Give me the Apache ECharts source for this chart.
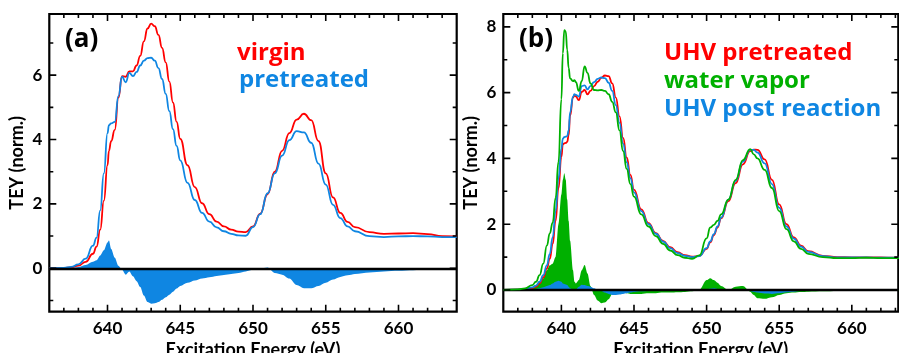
<!DOCTYPE html>
<html>
<head>
<meta charset="utf-8">
<script src="https://cdn.jsdelivr.net/npm/echarts/dist/echarts.min.js"></script>
<style>
  html, body { margin: 0; padding: 0; background: #fff; }
  #chart { width: 899px; height: 353px; }
</style>
</head>
<body>
<div id="chart"></div>
<script>
// ---- Panel (a): L-edge TEY, virgin vs pretreated ----
const energyA = [636, 637, 637.5, 638, 638.5, 639, 639.25, 639.5, 639.75, 640, 640.1, 640.25, 640.5, 640.75,
  641, 641.25, 641.5, 641.75, 642, 642.25, 642.5, 642.75, 643, 643.25, 643.5, 643.75, 644, 644.25, 644.5,
  644.75, 645, 645.5, 646, 646.5, 647, 647.5, 648, 648.5, 649, 649.5, 650, 650.5, 651, 651.5, 652, 652.5,
  653, 653.5, 654, 654.5, 655, 655.5, 656, 656.5, 657, 658, 659, 660, 661, 662, 663, 664];
const virginA = [0, 0.01, 0.03, 0.08, 0.2, 0.45, 0.67, 1.2, 2.1, 3.2, 3.65, 3.95, 4.3, 5.3,
  5.97, 5.95, 6.12, 6.12, 6.3, 6.6, 7.05, 7.45, 7.6, 7.52, 7.25, 6.85, 6.4, 5.8, 5.15,
  4.55, 4.02, 3.2, 2.52, 2.02, 1.68, 1.45, 1.3, 1.2, 1.14, 1.12, 1.3, 1.7, 2.3, 3.0, 3.65, 4.2,
  4.62, 4.8, 4.6, 3.95, 2.95, 2.2, 1.72, 1.44, 1.28, 1.12, 1.07, 1.08, 1.09, 1.06, 1.0, 0.99];
const pretreatedA = [0, 0.01, 0.04, 0.12, 0.3, 0.7, 0.95, 1.8, 2.95, 4.2, 4.45, 4.5, 4.55, 5.35,
  5.95, 5.78, 6.07, 5.97, 6.1, 6.3, 6.45, 6.53, 6.54, 6.45, 6.22, 5.88, 5.42, 4.88, 4.32,
  3.8, 3.35, 2.65, 2.12, 1.72, 1.45, 1.27, 1.15, 1.07, 1.02, 1.01, 1.28, 1.68, 2.33, 2.95, 3.5, 3.98,
  4.26, 4.22, 3.9, 3.25, 2.6, 1.97, 1.56, 1.3, 1.15, 1.0, 0.97, 0.99, 1.0, 0.99, 0.97, 0.97];
const diffA = [0, 0, 0.01, 0.04, 0.1, 0.2, 0.25, 0.4, 0.56, 0.8, 0.86, 0.6, 0.33, 0.08,
  -0.05, -0.2, -0.1, -0.25, -0.4, -0.58, -0.85, -1.05, -1.1, -1.09, -1.05, -0.98, -0.9, -0.82, -0.73,
  -0.63, -0.55, -0.45, -0.38, -0.32, -0.28, -0.24, -0.21, -0.18, -0.15, -0.1, -0.05, -0.01, 0.02, -0.15, -0.2, -0.32,
  -0.52, -0.62, -0.62, -0.55, -0.45, -0.35, -0.27, -0.22, -0.18, -0.13, -0.1, -0.08, -0.06, -0.04, -0.03, -0.02];

// ---- Panel (b): UHV pretreated, water vapor, UHV post reaction ----
const energyB = [636, 637, 637.5, 638, 638.25, 638.5, 638.75, 639, 639.2, 639.4, 639.6, 639.8, 640, 640.1,
  640.2, 640.3, 640.4, 640.5, 640.6, 640.8, 640.9, 641, 641.2, 641.4, 641.6, 641.8, 642, 642.25, 642.5,
  642.75, 643, 643.25, 643.5, 643.75, 644, 644.25, 644.5, 644.75, 645, 645.5, 646, 646.5, 647, 647.5,
  648, 648.5, 649, 649.5, 650, 650.25, 650.5, 650.75, 651, 651.5, 652, 652.5, 653, 653.25, 653.5, 654,
  654.5, 655, 655.5, 656, 656.5, 657, 658, 659, 660, 661, 662, 663, 664];
const uhvPretreatedB = [0, 0.01, 0.02, 0.06, 0.1, 0.2, 0.38, 0.65, 0.95, 1.4, 2.1, 3.1, 4.05, 4.42,
  4.46, 4.47, 4.5, 4.7, 5.3, 5.85, 5.92, 5.88, 5.77, 6.02, 6.08, 5.95, 6.05, 6.2, 6.33,
  6.45, 6.52, 6.5, 6.28, 5.85, 5.28, 4.62, 4.02, 3.5, 3.05, 2.45, 2.03, 1.73, 1.49, 1.3,
  1.15, 1.06, 1.01, 1.04, 1.25, 1.45, 1.67, 1.9, 2.18, 2.7, 3.25, 3.82, 4.22, 4.27, 4.26, 3.97,
  3.35, 2.6, 2.0, 1.6, 1.35, 1.18, 1.04, 1.0, 0.99, 0.99, 0.99, 0.98, 0.98];
const waterVaporB = [0, 0.02, 0.05, 0.15, 0.25, 0.45, 0.8, 1.35, 1.72, 2.05, 2.8, 3.9, 5.8, 7.2,
  7.9, 7.85, 7.3, 6.75, 6.43, 6.35, 6.38, 6.32, 6.05, 6.35, 6.8, 6.6, 6.28, 6.08, 6.07,
  6.08, 6.05, 5.95, 5.72, 5.4, 4.85, 4.22, 3.68, 3.22, 2.84, 2.3, 1.93, 1.64, 1.4, 1.2,
  1.06, 0.98, 0.95, 1.05, 1.57, 1.9, 1.98, 2.1, 2.3, 2.75, 3.35, 3.95, 4.28, 4.12, 4.0, 3.65,
  3.1, 2.4, 1.85, 1.48, 1.25, 1.1, 1.0, 0.97, 0.97, 0.98, 0.97, 0.97, 0.97];
const postReactionB = [0, 0.01, 0.03, 0.08, 0.13, 0.25, 0.45, 0.75, 1.1, 1.6, 2.4, 3.4, 4.3, 4.6,
  4.65, 4.66, 4.68, 4.85, 5.4, 5.88, 5.95, 5.93, 5.88, 6.2, 6.22, 6.1, 6.2, 6.32, 6.42,
  6.46, 6.44, 6.3, 6.05, 5.62, 5.08, 4.45, 3.88, 3.4, 2.97, 2.4, 2.0, 1.71, 1.47, 1.27,
  1.12, 1.04, 1.0, 1.03, 1.27, 1.48, 1.7, 1.93, 2.2, 2.75, 3.32, 3.9, 4.26, 4.26, 4.18, 3.85,
  3.22, 2.5, 1.93, 1.56, 1.32, 1.16, 1.03, 0.99, 0.99, 0.99, 0.98, 0.98, 0.98];
const diffWaterB = [0, 0.01, 0.03, 0.09, 0.15, 0.25, 0.35, 0.6, 0.75, 0.8, 1.0, 2.0, 2.9, 3.35,
  3.55, 3.35, 2.75, 2.1, 1.5, 0.6, 0.25, 0.2, 0.3, 0.6, 0.76, 0.5, 0.12, -0.15, -0.32,
  -0.4, -0.38, -0.28, -0.12, -0.05, 0.02, -0.05, -0.1, -0.12, -0.12, -0.12, -0.1, -0.1, -0.08, -0.08,
  -0.07, -0.06, -0.04, 0, 0.3, 0.36, 0.3, 0.22, 0.12, 0, 0.1, 0.12, -0.05, -0.15, -0.25, -0.27,
  -0.22, -0.15, -0.1, -0.08, -0.06, -0.05, -0.04, -0.03, -0.02, -0.02, -0.01, -0.01, -0.01];
const diffPostB = [0, 0, 0.01, 0.02, 0.03, 0.05, 0.08, 0.12, 0.15, 0.2, 0.25, 0.28, 0.25, 0.2,
  0.18, 0.17, 0.15, 0.1, 0.05, 0, -0.02, 0.02, 0.1, 0.16, 0.15, 0.12, 0.1, 0.05, 0,
  -0.03, -0.08, -0.12, -0.15, -0.15, -0.14, -0.12, -0.1, -0.08, -0.06, -0.04, -0.03, -0.02, -0.02, -0.01,
  -0.01, 0, 0, 0, 0.02, 0.04, 0.05, 0.03, 0.02, 0.02, 0.03, 0.03, -0.03, -0.06, -0.08, -0.11,
  -0.12, -0.1, -0.07, -0.05, -0.03, -0.02, -0.01, 0, 0, 0, 0, 0, 0];

// ---- Tick values ----
const xMajorTicks = [640, 645, 650, 655, 660];
const xMinorTicks = [637, 638, 639, 641, 642, 643, 644, 646, 647, 648, 649, 651, 652, 653, 654, 656, 657, 658, 659, 661, 662, 663];
const yMajorTicksA = [0, 2, 4, 6];
const yMinorTicksA = [-1, 1, 3, 5, 7];
const yMajorTicksB = [0, 2, 4, 6, 8];
const yMinorTicksB = [1, 3, 5, 7];

const RED = '#ff0000';
const BLUE = '#0f86e2';
const GREEN = '#00b000';
const FONT = 'Lato';
const LEGEND_FONT = '"Open Sans"';

// Plot frames (pixels) and their value ranges
const gridA = { left: 49.3, top: 14, width: 407.4, height: 297.7 };
const gridB = { left: 503.3, top: 14, width: 395, height: 297.7 };
const rangeA = { xMin: 636, xMax: 664, yMin: -1.35, yMax: 7.9 };
const rangeB = { xMin: 636, xMax: 663.2, yMin: -0.66, yMax: 8.39 };

const zip = (xs, ys) => xs.map((x, i) => [x, ys[i]]);

function xAxisFor(grid, r) {
  return {
    gridIndex: grid, type: 'value', min: r.xMin, max: r.xMax, position: 'bottom',
    splitLine: { show: false }, axisLine: { show: false, onZero: false }, axisTick: { show: false },
    axisLabel: { show: true, customValues: xMajorTicks, color: '#000', fontFamily: FONT,
      fontWeight: 'bold', fontSize: 17, margin: 8 },
    name: 'Excitation Energy (eV)', nameLocation: 'middle', nameGap: 27,
    nameTextStyle: { color: '#000', fontFamily: FONT, fontWeight: 'bold', fontSize: 18 }
  };
}

function yAxisFor(grid, r, major) {
  return {
    gridIndex: grid, type: 'value', min: r.yMin, max: r.yMax, position: 'left',
    splitLine: { show: false }, axisLine: { show: false, onZero: false }, axisTick: { show: false },
    axisLabel: { show: true, customValues: major, color: '#000', fontFamily: FONT,
      fontWeight: 'bold', fontSize: 17, margin: 7 },
    name: 'TEY (norm.)', nameLocation: 'middle', nameRotate: 90, nameGap: 23,
    nameTextStyle: { color: '#000', fontFamily: FONT, fontWeight: 'bold', fontSize: 18 }
  };
}

// Inward tick marks on all four sides of a frame, drawn as a broken polyline in axis units
function tickSeries(grid, g, r, yMajor, yMinor) {
  const ux = (r.xMax - r.xMin) / g.width;   // axis units per pixel, horizontal
  const uy = (r.yMax - r.yMin) / g.height;  // axis units per pixel, vertical
  const data = [];
  const seg = (x1, y1, x2, y2) => { data.push([x1, y1], [x2, y2], [x2, '-']); };
  const xTick = (v, len) => {
    seg(v, r.yMin, v, r.yMin + len * uy);
    seg(v, r.yMax, v, r.yMax - len * uy);
  };
  const yTick = (v, len) => {
    seg(r.xMin, v, r.xMin + len * ux, v);
    seg(r.xMax, v, r.xMax - len * ux, v);
  };
  xMajorTicks.forEach(v => xTick(v, 7));
  xMinorTicks.forEach(v => xTick(v, 4));
  yMajor.forEach(v => yTick(v, 7));
  yMinor.forEach(v => yTick(v, 4));
  return {
    name: 'frame ticks', type: 'line', xAxisIndex: grid, yAxisIndex: grid, data,
    showSymbol: false, symbol: 'none', smooth: false, connectNulls: false, silent: true, z: 20,
    lineStyle: { color: '#000', width: 1.6 }, itemStyle: { color: '#000' }
  };
}

function curve(name, grid, xs, ys, color, z) {
  return { name, type: 'line', xAxisIndex: grid, yAxisIndex: grid, data: zip(xs, ys),
    showSymbol: false, smooth: 0.5, smoothMonotone: 'x', z,
    lineStyle: { color, width: 1.8 }, itemStyle: { color } };
}

// Filled difference spectrum; zeroLine adds the black baseline at 0
function fill(name, grid, xs, ys, color, z, zeroLine) {
  const s = { name, type: 'line', xAxisIndex: grid, yAxisIndex: grid, data: zip(xs, ys),
    showSymbol: false, smooth: 0.3, smoothMonotone: 'x', z,
    lineStyle: { width: 0, color }, itemStyle: { color },
    areaStyle: { color, opacity: 1, origin: 0 } };
  if (zeroLine) {
    s.markLine = { silent: true, symbol: 'none', label: { show: false },
      lineStyle: { color: '#000', width: 2.4, type: 'solid' }, data: [{ yAxis: 0 }] };
  }
  return s;
}

function label(text, x, y, color, size) {
  return { type: 'text', x, y, z: 10, style: { text, fill: color, font: 'bold ' + size + 'px ' + LEGEND_FONT,
    align: 'left', verticalAlign: 'middle', textAlign: 'left', textVerticalAlign: 'middle' } };
}

const chart = echarts.init(document.getElementById('chart'), null, { renderer: 'canvas' });
chart.setOption({
  animation: false,
  backgroundColor: '#fff',
  grid: [
    Object.assign({ containLabel: false, outerBoundsMode: 'none', show: true, borderColor: '#000',
      borderWidth: 2.2, backgroundColor: 'transparent' }, gridA),
    Object.assign({ containLabel: false, outerBoundsMode: 'none', show: true, borderColor: '#000',
      borderWidth: 2.2, backgroundColor: 'transparent' }, gridB)
  ],
  xAxis: [xAxisFor(0, rangeA), xAxisFor(1, rangeB)],
  yAxis: [yAxisFor(0, rangeA, yMajorTicksA), yAxisFor(1, rangeB, yMajorTicksB)],
  series: [
    fill('pretreated − virgin', 0, energyA, diffA, BLUE, 1, true),
    curve('virgin', 0, energyA, virginA, RED, 3),
    curve('pretreated', 0, energyA, pretreatedA, BLUE, 4),
    tickSeries(0, gridA, rangeA, yMajorTicksA, yMinorTicksA),

    fill('water vapor − UHV pretreated', 1, energyB, diffWaterB, GREEN, 1, true),
    fill('UHV post reaction − UHV pretreated', 1, energyB, diffPostB, BLUE, 2, false),
    curve('UHV pretreated', 1, energyB, uhvPretreatedB, RED, 3),
    curve('UHV post reaction', 1, energyB, postReactionB, BLUE, 4),
    curve('water vapor', 1, energyB, waterVaporB, GREEN, 5),
    tickSeries(1, gridB, rangeB, yMajorTicksB, yMinorTicksB)
  ],
  graphic: [
    label('(a)', 65, 40, '#000', 26),
    label('virgin', 237, 53, RED, 24),
    label('pretreated', 239, 80, BLUE, 24),
    label('(b)', 519, 40, '#000', 26),
    label('UHV pretreated', 664, 53, RED, 24),
    label('water vapor', 664, 81, GREEN, 24),
    label('UHV post reaction', 664, 109, BLUE, 24)
  ]
});
</script>
</body>
</html>
